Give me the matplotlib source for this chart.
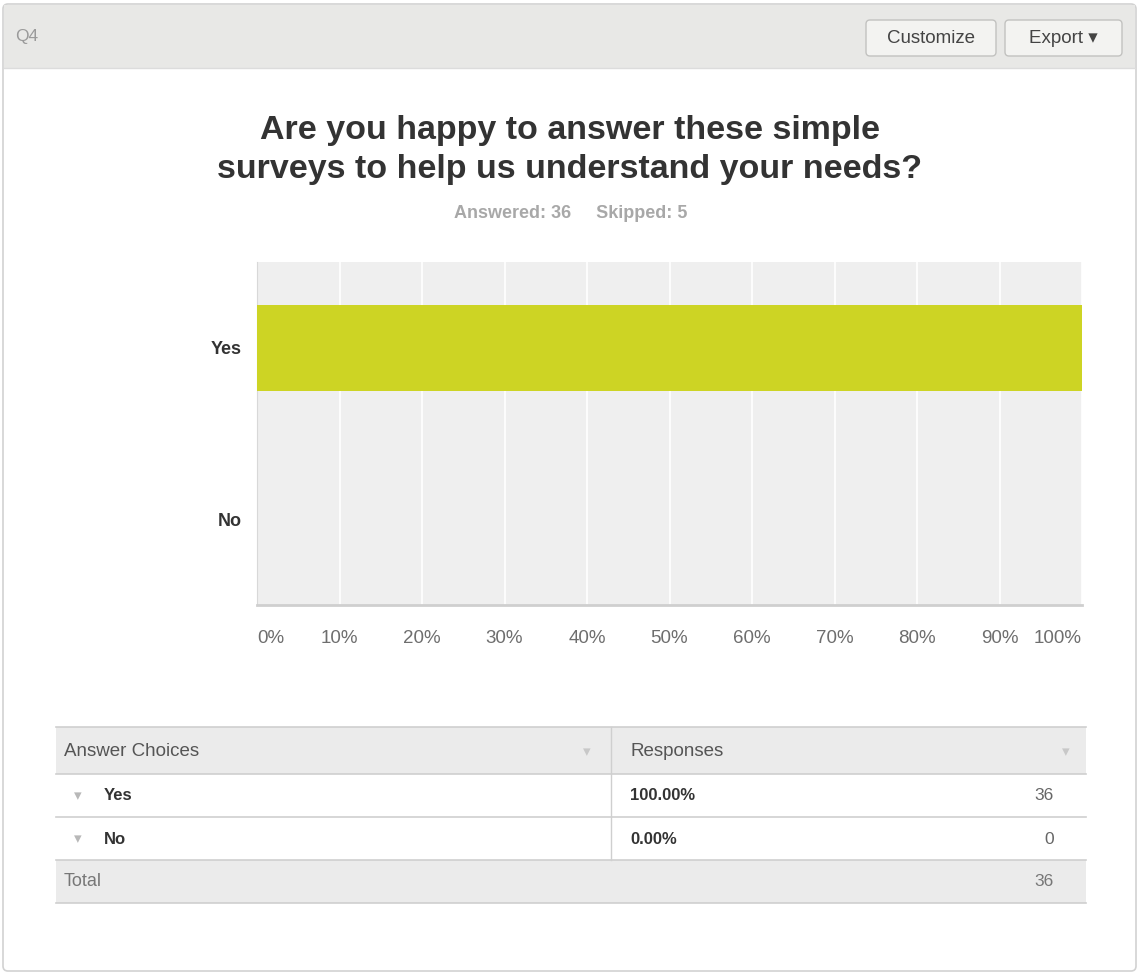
import matplotlib.pyplot as plt
from matplotlib.patches import Rectangle, FancyBboxPatch

plt.rcParams['font.family'] = ['Liberation Sans', 'DejaVu Sans']

question_id = "Q4"
title = "Are you happy to answer these simple\nsurveys to help us understand your needs?"
answered = 36
skipped = 5
choices = ["Yes", "No"]
percents = [100.0, 0.0]
counts = [36, 0]
total = 36
xticks = list(range(0, 101, 10))

W, H = 1139, 974
fig = plt.figure(figsize=(W / 100, H / 100), dpi=100)

# background layer in pixel coordinates
bg = fig.add_axes([0, 0, 1, 1])
bg.set_xlim(0, W)
bg.set_ylim(H, 0)
bg.axis('off')
bg.set_zorder(0)

# panel and header band
bg.add_patch(FancyBboxPatch((3, 4), 1133, 967, boxstyle="round,pad=0,rounding_size=5",
                            facecolor='white', edgecolor='#d2d2d2', lw=1.2))
bg.add_patch(Rectangle((3.6, 4.6), 1131.8, 63.4, facecolor='#e8e8e6', edgecolor='none'))
bg.plot([3.6, 1135.4], [68, 68], color='#dcdcdc', lw=1)
bg.text(15, 36, question_id, fontsize=12.5, color='#9a9a9a', va='center', ha='left')

# buttons
for x0, w, label in [(866, 130, "Customize"), (1005, 117, "Export \u25be")]:
    bg.add_patch(FancyBboxPatch((x0, 20), w, 36, boxstyle="round,pad=0,rounding_size=4",
                                facecolor='#f3f3f1', edgecolor='#c2c2c0', lw=1))
    bg.text(x0 + w / 2, 38.5, label, fontsize=13.5, color='#444444',
            ha='center', va='center')

# title
bg.text(570, 150, title, fontsize=24.5, fontweight='bold', color='#333333',
        ha='center', va='center', linespacing=1.34)
bg.text(571, 213, f"Answered: {answered}     Skipped: {skipped}", fontsize=13,
        fontweight='bold', color='#a8a8a8', ha='center', va='center')

# chart
left, right, top, bottom = 257, 1082, 262, 605
ax = fig.add_axes([left / W, 1 - bottom / H, (right - left) / W, (bottom - top) / H])
ax.set_zorder(2)
ax.set_facecolor('#efefef')
ax.barh(range(len(choices)), percents, height=0.5, color='#cdd424', zorder=3)
ax.set_xlim(0, 100)
ax.set_ylim(len(choices) - 0.5, -0.5)
ax.set_xticks(xticks)
ax.set_xticklabels([f"{t}%" for t in xticks], fontsize=13.5, color='#6e6e6e')
xl = ax.get_xticklabels()
xl[0].set_horizontalalignment('left')
xl[-1].set_horizontalalignment('right')
ax.set_yticks(range(len(choices)))
ax.set_yticklabels(choices, fontsize=13, fontweight='bold', color='#333333')
ax.tick_params(axis='both', length=0)
ax.tick_params(axis='x', pad=18)
ax.tick_params(axis='y', pad=11)
ax.grid(axis='x', color='white', lw=1.2, zorder=1)
ax.set_axisbelow(True)
for s in ['top', 'right']:
    ax.spines[s].set_visible(False)
ax.spines['left'].set_color('#d8d8d8')
ax.spines['bottom'].set_color('#cfcfcf')
ax.spines['bottom'].set_linewidth(2)

# table
tl, tr, mid = 56, 1086, 611
bg.add_patch(Rectangle((tl, 727), tr - tl, 47, facecolor='#ebebeb', edgecolor='none'))
bg.add_patch(Rectangle((tl, 860), tr - tl, 43, facecolor='#ebebeb', edgecolor='none'))
for y in [727, 774, 817, 860, 903]:
    bg.plot([tl, tr], [y, y], color='#cfcfcf', lw=1.2)
bg.plot([mid, mid], [727, 860], color='#cfcfcf', lw=1)

bg.text(64, 751, "Answer Choices", fontsize=13.5, color='#555555', va='center')
bg.text(630, 751, "Responses", fontsize=13.5, color='#555555', va='center')
for xa in [587, 1066]:
    bg.text(xa, 752, "\u25be", fontsize=11, color='#c8c8c8', ha='center', va='center')

for i, (c, p, n) in enumerate(zip(choices, percents, counts)):
    yc = 796 + i * 43
    bg.text(78, yc, "\u25be", fontsize=11, color='#b8b8b8', ha='center', va='center')
    bg.text(104, yc, c, fontsize=12, fontweight='bold', color='#333333', va='center')
    bg.text(630, yc, f"{p:.2f}%", fontsize=12, fontweight='bold', color='#333333', va='center')
    bg.text(1054, yc, str(n), fontsize=12.5, color='#666666', ha='right', va='center')

bg.text(64, 882, "Total", fontsize=13, color='#777777', va='center')
bg.text(1054, 882, str(total), fontsize=12.5, color='#777777', ha='right', va='center')

fig.savefig('out.png', dpi=100)
